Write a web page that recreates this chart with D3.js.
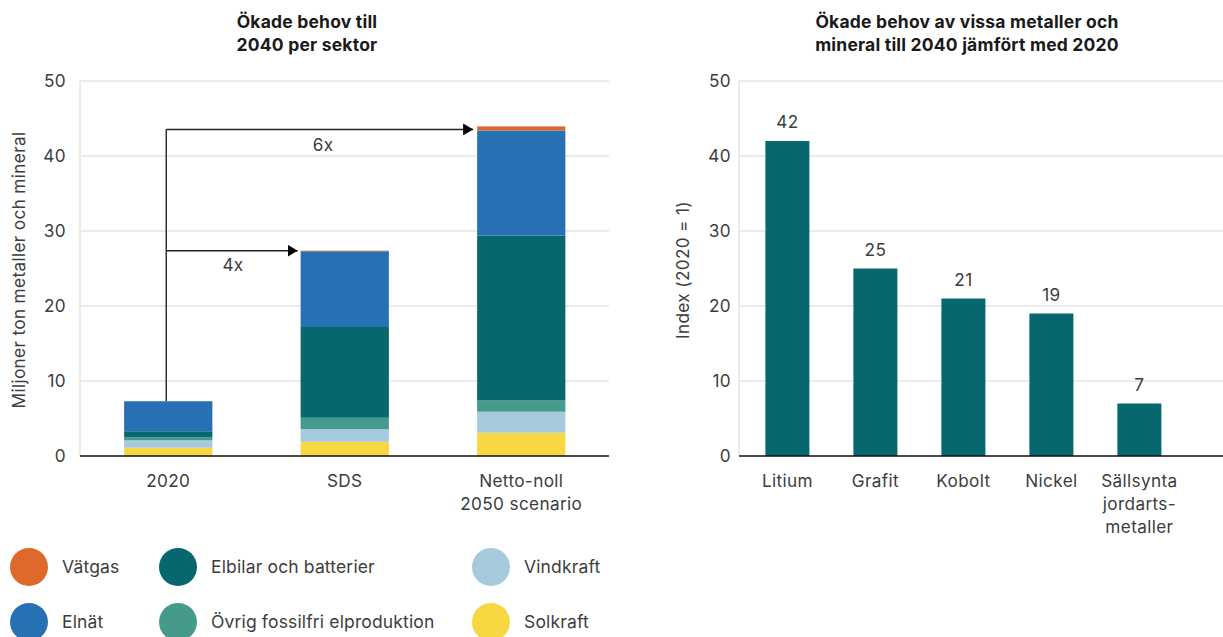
<!DOCTYPE html>
<html><head><meta charset="utf-8">
<script src="https://cdn.jsdelivr.net/npm/d3@7"></script>
<style>
body{margin:0;background:#fff;}
text{font-family:Inter,Roboto,"Noto Sans",sans-serif;}
</style></head>
<body>
<svg id="c" width="1223" height="637"></svg>
<script>
// ---- Data ----
const sectors = ["2020", "SDS", "Netto-noll\n2050 scenario"];
const seriesNames = ["Solkraft", "Vindkraft", "Övrig fossilfri elproduktion", "Elbilar och batterier", "Elnät", "Vätgas"];
const solkraft = [1.1, 1.9, 3.1];
const vindkraft = [1.0, 1.7, 2.8];
const ovrig = [0.4, 1.5, 1.5];
const elbilar = [0.8, 12.1, 22.0];
const elnat = [4.0, 10.1, 14.0];
const vatgas = [0.0, 0.08, 0.55];
const seriesColors = ["#F7D843", "#A5CADC", "#469A8B", "#07676E", "#2870B4", "#DF692C"];
const leftTicks = [0, 10, 20, 30, 40, 50];
const multipliers = ["4x", "6x"];

const metals = ["Litium", "Grafit", "Kobolt", "Nickel", "Sällsynta\njordarts-\nmetaller"];
const metalIndex = [42, 25, 21, 19, 7];
const rightTicks = [0, 10, 20, 30, 40, 50];

const legendItems = [
  ["Vätgas", "#DF692C"], ["Elnät", "#2870B4"],
  ["Elbilar och batterier", "#07676E"], ["Övrig fossilfri elproduktion", "#469A8B"],
  ["Vindkraft", "#A5CADC"], ["Solkraft", "#F7D843"]
];

const svg = d3.select("#c");
const txt = "#3d3d3d";
const grid = "#ebebeb";
const fs = 17.2;
const ls = "0.35px";

function multiline(sel, str, lh) {
  str.split("\n").forEach((s, i) => sel.append("tspan").attr("x", sel.attr("x")).attr("dy", i === 0 ? 0 : lh).text(s));
}
function lab(sel) { return sel.attr("font-size", fs).attr("fill", txt).attr("letter-spacing", ls); }

// ---- Left chart ----
const yL = d3.scaleLinear().domain([0, 50]).range([456, 81]);
const xL = d3.scaleBand().domain(sectors).range([80, 609.5]).paddingInner(0.5).paddingOuter(0.25);
const gL = svg.append("g");

gL.selectAll("line.grid").data(leftTicks.filter(d => d > 0)).join("line")
  .attr("x1", 80).attr("x2", 609).attr("y1", d => yL(d)).attr("y2", d => yL(d))
  .attr("stroke", grid).attr("stroke-width", 2);
gL.append("line").attr("x1", 80).attr("x2", 80).attr("y1", yL(50)).attr("y2", yL(0)).attr("stroke", grid).attr("stroke-width", 2);

lab(gL.selectAll("text.tick").data(leftTicks).join("text")
  .attr("x", 66).attr("y", d => yL(d)).attr("dy", "0.35em").attr("text-anchor", "end")).text(d => d);

const table = sectors.map((s, i) => ({ key: s, Solkraft: solkraft[i], Vindkraft: vindkraft[i], "Övrig fossilfri elproduktion": ovrig[i], "Elbilar och batterier": elbilar[i], "Elnät": elnat[i], "Vätgas": vatgas[i] }));
const stack = d3.stack().keys(seriesNames)(table);
stack.forEach((layer, li) => {
  gL.append("g").selectAll("rect").data(layer).join("rect")
    .attr("x", d => xL(d.data.key)).attr("width", xL.bandwidth())
    .attr("y", d => yL(d[1])).attr("height", d => Math.max(0, yL(d[0]) - yL(d[1])))
    .attr("fill", seriesColors[li]);
});

gL.append("line").attr("x1", 80).attr("x2", 609).attr("y1", yL(0)).attr("y2", yL(0)).attr("stroke", "#111").attr("stroke-width", 1.5);

lab(gL.selectAll("text.xl").data(sectors).join("text")
  .attr("x", d => xL(d) + xL.bandwidth() / 2).attr("y", 487).attr("text-anchor", "middle"))
  .each(function (d) { multiline(d3.select(this), d, 23); });

// arrows
const totals = table.map(r => seriesNames.reduce((a, k) => a + r[k], 0));
const ax = xL(sectors[0]) + xL.bandwidth() / 2 - 2;
const defs = svg.append("defs");
defs.append("marker").attr("id", "ah").attr("viewBox", "0 0 10 12").attr("refX", 10).attr("refY", 6)
  .attr("markerWidth", 10).attr("markerHeight", 12).attr("markerUnits", "userSpaceOnUse").attr("orient", "auto")
  .append("path").attr("d", "M0,0L10,6L0,12Z").attr("fill", "#000");
const topY = yL(totals[2]) + 3;
gL.append("line").attr("x1", ax).attr("x2", ax).attr("y1", yL(totals[0])).attr("y2", topY).attr("stroke", "#333").attr("stroke-width", 1.5);
gL.append("path").attr("d", `M${ax},${topY}H${xL(sectors[2]) - 4}`).attr("stroke", "#222").attr("stroke-width", 1.5).attr("fill", "none").attr("marker-end", "url(#ah)");
gL.append("path").attr("d", `M${ax},${yL(totals[1])}H${xL(sectors[1]) - 3}`).attr("stroke", "#222").attr("stroke-width", 1.5).attr("fill", "none").attr("marker-end", "url(#ah)");
lab(gL.append("text").attr("x", 233).attr("y", yL(totals[1]) + 14).attr("dy", "0.35em").attr("text-anchor", "middle")).text(multipliers[0]);
lab(gL.append("text").attr("x", 323).attr("y", topY + 16).attr("dy", "0.35em").attr("text-anchor", "middle")).text(multipliers[1]);

lab(gL.append("text").attr("transform", "translate(25,270) rotate(-90)").attr("text-anchor", "middle"))
  .text("Miljoner ton metaller och mineral");
gL.append("text").attr("x", 307).attr("y", 28).attr("text-anchor", "middle").attr("font-size", 17.5).attr("font-weight", 700).attr("letter-spacing", "0.2px").attr("fill", "#1a1a1a")
  .each(function () { multiline(d3.select(this), "Ökade behov till\n2040 per sektor", 23); });

// ---- Right chart ----
const yR = d3.scaleLinear().domain([0, 50]).range([456, 81]);
const xR = d3.scaleBand().domain(metals).range([739, 1187.8]).paddingInner(0.5).paddingOuter(0.3);
const gR = svg.append("g");
gR.selectAll("line.grid").data(rightTicks.filter(d => d > 0)).join("line")
  .attr("x1", 739).attr("x2", 1223).attr("y1", d => yR(d)).attr("y2", d => yR(d))
  .attr("stroke", grid).attr("stroke-width", 2);
gR.append("line").attr("x1", 739).attr("x2", 739).attr("y1", yR(50)).attr("y2", yR(0)).attr("stroke", grid).attr("stroke-width", 2);
lab(gR.selectAll("text.tick").data(rightTicks).join("text")
  .attr("x", 731).attr("y", d => yR(d)).attr("dy", "0.35em").attr("text-anchor", "end")).text(d => d);
gR.selectAll("rect").data(metals).join("rect")
  .attr("x", d => xR(d)).attr("width", xR.bandwidth())
  .attr("y", (d, i) => yR(metalIndex[i])).attr("height", (d, i) => yR(0) - yR(metalIndex[i]))
  .attr("fill", "#07676E");
lab(gR.selectAll("text.val").data(metals).join("text")
  .attr("x", d => xR(d) + xR.bandwidth() / 2).attr("y", (d, i) => yR(metalIndex[i]) - 13)
  .attr("text-anchor", "middle")).text((d, i) => metalIndex[i]);
gR.append("line").attr("x1", 739).attr("x2", 1223).attr("y1", yR(0)).attr("y2", yR(0)).attr("stroke", "#111").attr("stroke-width", 1.5);
lab(gR.selectAll("text.xl").data(metals).join("text")
  .attr("x", d => xR(d) + xR.bandwidth() / 2).attr("y", 487).attr("text-anchor", "middle"))
  .each(function (d) { multiline(d3.select(this), d, 23); });
lab(gR.append("text").attr("transform", "translate(689,270) rotate(-90)").attr("text-anchor", "middle"))
  .text("Index (2020 = 1)");
gR.append("text").attr("x", 967).attr("y", 28).attr("text-anchor", "middle").attr("font-size", 17.5).attr("font-weight", 700).attr("letter-spacing", "0.2px").attr("fill", "#1a1a1a")
  .each(function () { multiline(d3.select(this), "Ökade behov av vissa metaller och\nmineral till 2040 jämfört med 2020", 23); });

// ---- Legend ----
const legX = [29, 178, 491];
const legY = [567, 622];
const lg = svg.append("g");
legendItems.forEach((it, i) => {
  const col = Math.floor(i / 2), row = i % 2;
  lg.append("circle").attr("cx", legX[col]).attr("cy", legY[row]).attr("r", 19).attr("fill", it[1]);
  lg.append("text").attr("x", legX[col] + 33).attr("y", legY[row]).attr("dy", "0.35em")
    .attr("font-size", 17.5).attr("letter-spacing", "0.15px").attr("fill", txt).text(it[0]);
});
</script>
</body></html>
